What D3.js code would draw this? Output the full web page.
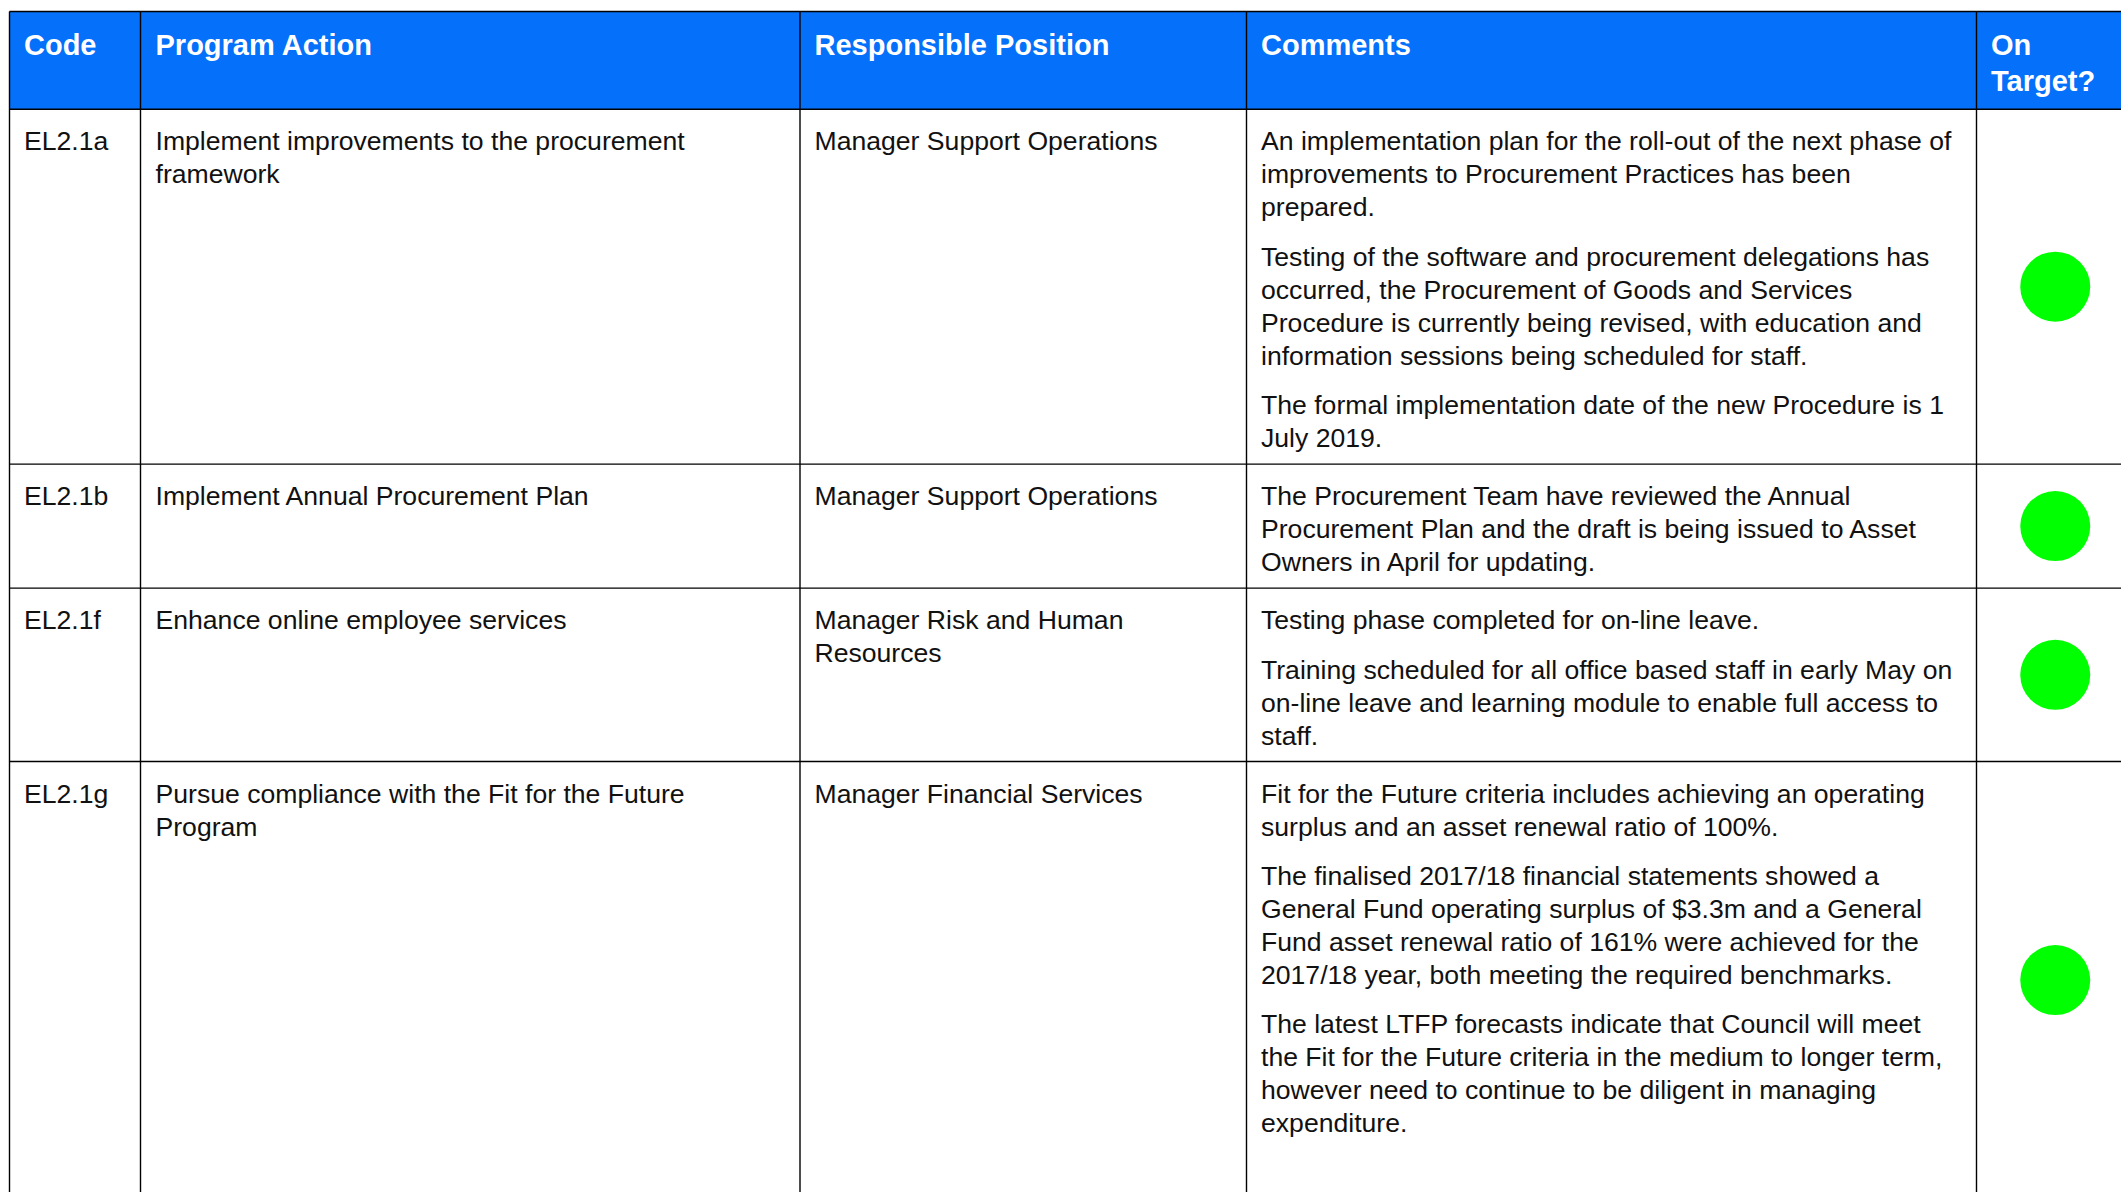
<!DOCTYPE html>
<html>
<head>
<meta charset="utf-8">
<script src="https://cdn.jsdelivr.net/npm/d3@7"></script>
<style>
  html, body { margin: 0; padding: 0; background: #fff; overflow: hidden; }
  svg { display: block; }
</style>
</head>
<body>
<div id="chart"></div>
<script>
// ---------------- DATA ----------------
const headers = [["Code"], ["Program Action"], ["Responsible Position"], ["Comments"], ["On", "Target?"]];

const codes = ["EL2.1a", "EL2.1b", "EL2.1f", "EL2.1g"];

const actions = [
  ["Implement improvements to the procurement", "framework"],
  ["Implement Annual Procurement Plan"],
  ["Enhance online employee services"],
  ["Pursue compliance with the Fit for the Future", "Program"]
];

const positions = [
  ["Manager Support Operations"],
  ["Manager Support Operations"],
  ["Manager Risk and Human", "Resources"],
  ["Manager Financial Services"]
];

const comments = [
  [
    ["An implementation plan for the roll-out of the next phase of",
     "improvements to Procurement Practices has been",
     "prepared."],
    ["Testing of the software and procurement delegations has",
     "occurred, the Procurement of Goods and Services",
     "Procedure is currently being revised, with education and",
     "information sessions being scheduled for staff."],
    ["The formal implementation date of the new Procedure is 1",
     "July 2019."]
  ],
  [
    ["The Procurement Team have reviewed the Annual",
     "Procurement Plan and the draft is being issued to Asset",
     "Owners in April for updating."]
  ],
  [
    ["Testing phase completed for on-line leave."],
    ["Training scheduled for all office based staff in early May on",
     "on-line leave and learning module to enable full access to",
     "staff."]
  ],
  [
    ["Fit for the Future criteria includes achieving an operating",
     "surplus and an asset renewal ratio of 100%."],
    ["The finalised 2017/18 financial statements showed a",
     "General Fund operating surplus of $3.3m and a General",
     "Fund asset renewal ratio of 161% were achieved for the",
     "2017/18 year, both meeting the required benchmarks."],
    ["The latest LTFP forecasts indicate that Council will meet",
     "the Fit for the Future criteria in the medium to longer term,",
     "however need to continue to be diligent in managing",
     "expenditure."],
    [""]
  ]
];

const onTarget = ["Yes", "Yes", "Yes", "Yes"];
const statusKeys = ["Yes", "No"];

// ---------------- LAYOUT ----------------
const W = 2121, H = 1192;
const colEdges = [9.5, 140.5, 800, 1246.5, 1976.5, 2134];
const colPad = [14.5, 15, 14.5, 14.5, 14.5];
const tableTop = 11.5;
const headerH = 97.8;
const headerFont = 29, bodyFont = 26.6;
const headerLH = 35.7, bodyLH = 33, paraGap = 16.4;
const headerFirstBase = 43.5;
const bodyFirstBase = 41, bodyBottomPad = 17;
const headerBlue = "#0570FA";
const fontFam = "'Liberation Sans', Arial, Helvetica, sans-serif";

const colorScale = d3.scaleOrdinal().domain(statusKeys).range(["#00FF00", "#FF0000"]);

// row layout from content
function rowLines(i) {
  const paras = comments[i];
  const nLines = d3.sum(paras, p => p.length);
  const nGaps = paras.length - 1;
  const otherLines = Math.max(actions[i].length, positions[i].length);
  return {nLines: Math.max(nLines, otherLines), nGaps};
}
const rowHeights = codes.map((c, i) => {
  const r = rowLines(i);
  return bodyFirstBase + (r.nLines - 1) * bodyLH + r.nGaps * paraGap + bodyBottomPad;
});
const rowTops = [];
let acc = tableTop + headerH;
rowHeights.forEach(h => { rowTops.push(acc); acc += h; });
const tableBottom = acc;

const rowTopScale = d3.scaleOrdinal().domain(codes).range(rowTops);
const rowHScale = d3.scaleOrdinal().domain(codes).range(rowHeights);
const colScale = d3.scaleOrdinal().domain(d3.range(5)).range(colEdges.slice(0, 5));

// ---------------- DRAW ----------------
const svg = d3.select("#chart").append("svg")
  .attr("width", W).attr("height", H)
  .attr("font-family", fontFam);

svg.append("rect").attr("width", W).attr("height", H).attr("fill", "#fff");

// header background
svg.append("rect")
  .attr("x", colEdges[0]).attr("y", tableTop)
  .attr("width", colEdges[5] - colEdges[0]).attr("height", headerH)
  .attr("fill", headerBlue);

// header text
const hg = svg.append("g");
headers.forEach((lines, c) => {
  const t = hg.append("text")
    .attr("x", colScale(c) + colPad[c])
    .attr("y", tableTop + headerFirstBase)
    .attr("font-size", headerFont)
    .attr("font-weight", "bold")
    .attr("fill", "#fff");
  lines.forEach((ln, k) => {
    t.append("tspan").attr("x", colScale(c) + colPad[c]).attr("y", tableTop + headerFirstBase + k * headerLH).text(ln);
  });
});

// body
const body = svg.append("g");
function drawLines(g, lines, x, y0) {
  const t = g.append("text").attr("font-size", bodyFont).attr("fill", "#111");
  lines.forEach((ln, k) => {
    t.append("tspan").attr("x", x).attr("y", y0 + k * bodyLH).text(ln);
  });
}

codes.forEach((code, i) => {
  const top = rowTopScale(code);
  const base = top + bodyFirstBase;
  const g = body.append("g");
  drawLines(g, [code], colScale(0) + colPad[0], base);
  drawLines(g, actions[i], colScale(1) + colPad[1], base);
  drawLines(g, positions[i], colScale(2) + colPad[2], base);
  let y = base;
  comments[i].forEach(p => {
    drawLines(g, p, colScale(3) + colPad[3], y);
    y += p.length * bodyLH + paraGap;
  });
  g.append("circle")
    .attr("cx", (colEdges[4] + colEdges[5]) / 2)
    .attr("cy", top + rowHScale(code) / 2)
    .attr("r", 35)
    .attr("fill", colorScale(onTarget[i]));
});

// grid lines
const grid = svg.append("g").attr("stroke", "#000").attr("stroke-width", 1.4).attr("fill", "none");
const hLines = [tableTop, tableTop + headerH].concat(rowTops.slice(1)).concat([tableBottom]);
hLines.forEach(y => {
  grid.append("line").attr("x1", colEdges[0]).attr("x2", colEdges[5]).attr("y1", y).attr("y2", y);
});
colEdges.forEach(x => {
  grid.append("line").attr("x1", x).attr("x2", x).attr("y1", tableTop).attr("y2", tableBottom);
});
</script>
</body>
</html>
